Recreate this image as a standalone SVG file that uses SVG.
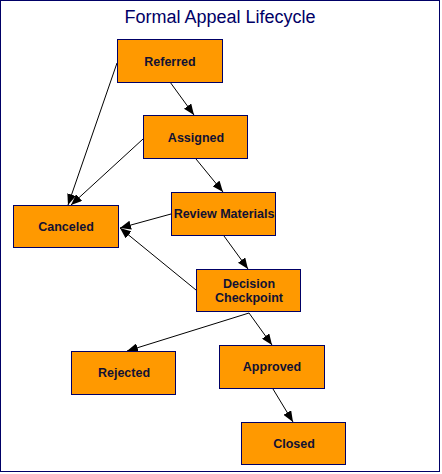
<svg xmlns="http://www.w3.org/2000/svg" width="442" height="474" viewBox="0 0 442 474">
<style>
.node rect{fill:#FF9900;stroke:#000066;stroke-width:1}
.node text{font-family:"Liberation Sans",Arial,sans-serif;font-weight:bold;font-size:12.5px;fill:#111133;text-anchor:middle}
.title{font-family:"Liberation Sans",Arial,sans-serif;font-size:18px;fill:#000066;text-anchor:middle}
#connectors line{stroke:#000;stroke-width:1;fill:none;marker-end:url(#arr)}
</style>
<defs>
<marker id="arr" markerUnits="userSpaceOnUse" markerWidth="11" markerHeight="9" viewBox="0 0 11 9" refX="11" refY="4.5" orient="auto">
<path d="M0,0 L11,4.5 L0,9 z" fill="#000"/>
</marker>
</defs>
<rect x="0.5" y="0.5" width="439" height="471" fill="#fff" stroke="#000066" stroke-width="1"/>
<text class="title" x="220" y="23">Formal Appeal Lifecycle</text>
<g id="connectors">
<line x1="170" y1="82" x2="194" y2="115"/>
<line x1="117" y1="63" x2="68" y2="205"/>
<line x1="143" y1="139" x2="71" y2="205"/>
<line x1="196" y1="159" x2="223" y2="192"/>
<line x1="171" y1="214" x2="120" y2="228"/>
<line x1="196" y1="290" x2="120" y2="228"/>
<line x1="224" y1="236" x2="248" y2="269"/>
<line x1="249" y1="313" x2="127" y2="351"/>
<line x1="249" y1="313" x2="272" y2="345"/>
<line x1="273" y1="389" x2="293" y2="422"/>
</g>
<g id="referred" class="node"><rect x="117.5" y="39.5" width="105" height="43"/><text x="170" y="66">Referred</text></g>
<g id="assigned" class="node"><rect x="143.5" y="115.5" width="104" height="43"/><text x="196" y="142">Assigned</text></g>
<g id="canceled" class="node"><rect x="13.5" y="205.5" width="105" height="42"/><text x="66" y="231">Canceled</text></g>
<g id="review" class="node"><rect x="171.5" y="192.5" width="104" height="43"/><text x="224" y="218">Review Materials</text></g>
<g id="decision" class="node"><rect x="196.5" y="269.5" width="104" height="42"/><text x="249" y="288">Decision</text><text x="249" y="302">Checkpoint</text></g>
<g id="rejected" class="node"><rect x="71.5" y="351.5" width="104" height="43"/><text x="124" y="377">Rejected</text></g>
<g id="approved" class="node"><rect x="219.5" y="345.5" width="105" height="43"/><text x="272" y="371">Approved</text></g>
<g id="closed" class="node"><rect x="241.5" y="422.5" width="104" height="42"/><text x="294" y="448">Closed</text></g>
</svg>
